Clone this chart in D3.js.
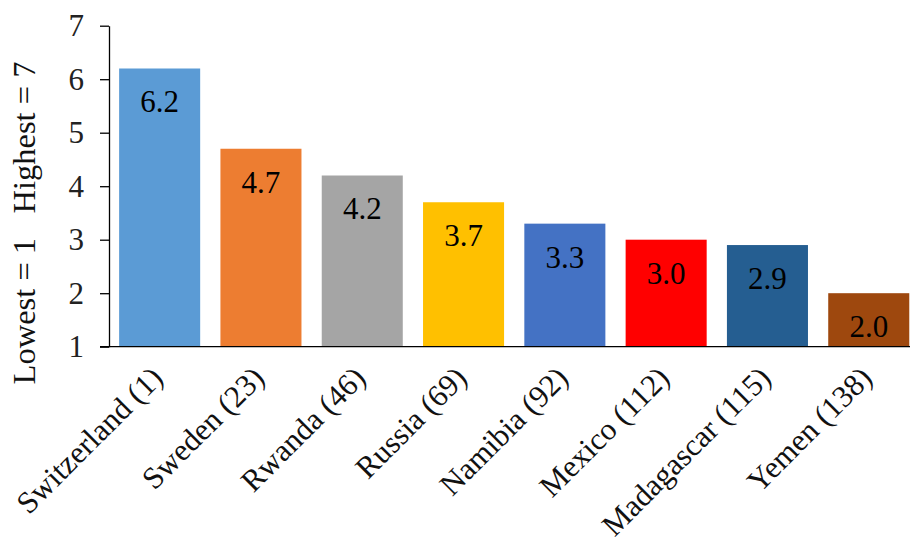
<!DOCTYPE html>
<html>
<head>
<meta charset="utf-8">
<script src="https://cdn.jsdelivr.net/npm/d3@7"></script>
<style>
  html, body { margin: 0; padding: 0; background: #fff; }
  svg { display: block; font-family: "Liberation Serif", "Times New Roman", serif; }
</style>
</head>
<body>
<svg id="chart" width="910" height="548"></svg>
<script>
// Country scores (rank in parentheses)
const countries = ["Switzerland (1)", "Sweden (23)", "Rwanda (46)", "Russia (69)",
                   "Namibia (92)", "Mexico (112)", "Madagascar (115)", "Yemen (138)"];
const scores = [6.2, 4.7, 4.2, 3.7, 3.3, 3.0, 2.9, 2.0];
const barColors = ["#5B9BD5", "#ED7D31", "#A5A5A5", "#FFC000",
                   "#4472C4", "#FF0000", "#255E91", "#9E480E"];
const yTicks = [1, 2, 3, 4, 5, 6, 7];
const yTitle = "Lowest = 1\u00A0\u00A0\u00A0Highest = 7";

const svg = d3.select("#chart");
const plotLeft = 109, plotTop = 25.7, plotBottom = 346.7, plotRight = 919.4;

const x = d3.scaleBand().domain(countries).range([plotLeft, plotRight])
  .paddingInner(0.2).paddingOuter(0.1);
const y = d3.scaleLinear().domain([1, 7]).range([plotBottom, plotTop]);

const data = countries.map((c, i) => ({ name: c, value: scores[i], color: barColors[i] }));

// bars
svg.append("g").selectAll("rect").data(data).join("rect")
  .attr("x", d => x(d.name))
  .attr("y", d => y(d.value))
  .attr("width", x.bandwidth())
  .attr("height", d => y(1) - y(d.value))
  .attr("fill", d => d.color);

// value labels inside bar tops
svg.append("g").selectAll("text").data(data).join("text")
  .attr("x", d => x(d.name) + x.bandwidth() / 2)
  .attr("y", d => y(d.value) + 33)
  .attr("dy", "0.35em")
  .attr("text-anchor", "middle")
  .attr("font-size", 31)
  .attr("fill", "#000")
  .text(d => d.value.toFixed(1));

// y axis
const yAxis = d3.axisLeft(y).tickValues(yTicks).tickFormat(d3.format("d"))
  .tickSizeInner(9).tickSizeOuter(0).tickPadding(16);
const gy = svg.append("g").attr("transform", `translate(${plotLeft},0)`).call(yAxis);
gy.attr("font-family", null);
gy.select(".domain").attr("stroke", "#000").attr("stroke-width", 1.3);
gy.selectAll(".tick line").attr("stroke", "#000").attr("stroke-width", 1.3);
gy.selectAll(".tick text").attr("font-size", 31).attr("fill", "#222");

// x axis baseline
const xAxis = d3.axisBottom(x).tickSize(0).tickSizeOuter(0).tickFormat("");
const gx = svg.append("g").attr("transform", `translate(0,${plotBottom})`).call(xAxis);
gx.select(".domain").attr("stroke", "#000").attr("stroke-width", 1.3)
  .attr("d", `M${plotLeft - 9},0H${plotRight}`);

// rotated category labels
svg.append("g").selectAll("text").data(countries).join("text")
  .attr("transform", d => `translate(${x(d) + x.bandwidth() / 2 + 5},${plotBottom + 33}) rotate(-45)`)
  .attr("text-anchor", "end")
  .attr("font-size", 31)
  .attr("fill", "#111")
  .text(d => d);

// y axis title
svg.append("text")
  .attr("transform", `translate(35,${(58 + 388) / 2}) rotate(-90)`)
  .attr("text-anchor", "middle")
  .attr("font-size", 32.5)
  .attr("fill", "#111")
  .text(yTitle);
</script>
</body>
</html>
